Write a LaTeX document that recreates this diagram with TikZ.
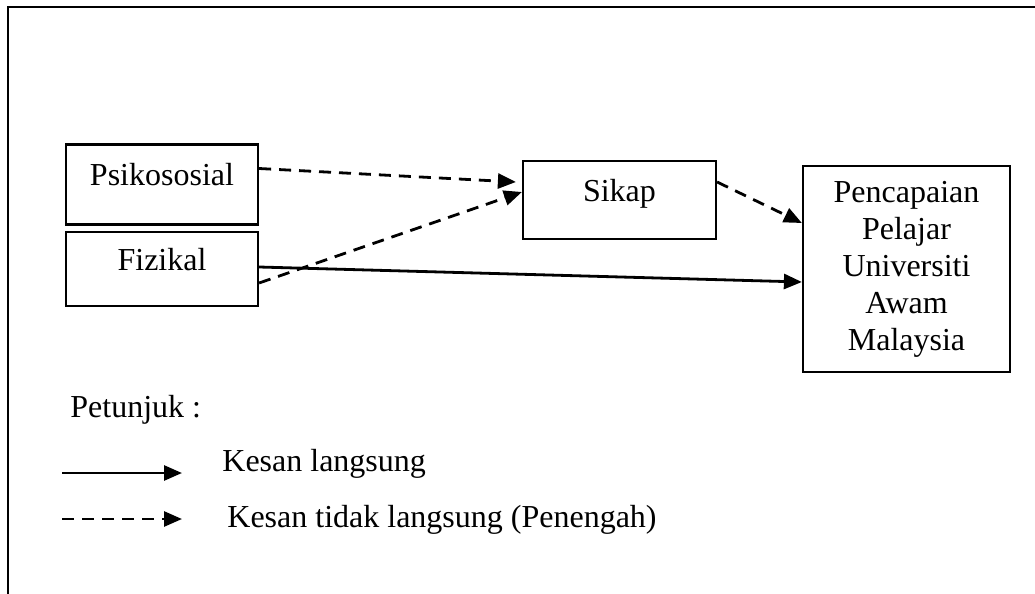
\documentclass[tikz,border=0pt]{standalone}
\usepackage{fontspec}
\setmainfont{Liberation Serif}
\usetikzlibrary{arrows.meta}

\tikzset{
    faktor/.style={draw, line width=1.1pt, minimum width=96pt, text height=10.6pt, text depth=9.5pt, inner sep=0pt},
    hasil/.style={draw, line width=1.1pt, minimum width=103.5pt, minimum height=103pt, align=center, inner sep=0pt},
    langsung/.style={line width=1.4pt, -{Triangle[length=9pt,width=7.5pt]}},
    penengah/.style={langsung, dash pattern=on 6pt off 4pt},
    teks/.style={anchor=base west, inner sep=0pt}
}

\begin{document}
\begin{tikzpicture}[x=0.5pt, y=-0.5pt, font=\fontsize{16}{18.5}\selectfont]
    \useasboundingbox (0,0) rectangle (1035,594);
    \draw[line width=1.4pt] (1035,7) -- (8,7) -- (8,594);

    \node[faktor, minimum height=40pt] (psiko) at (162,184.5) {Psikososial};
    \node[faktor, minimum height=37pt] (fiz) at (162,269) {Fizikal};
    \node[faktor, minimum width=96.5pt, minimum height=39pt] (sikap) at (619.5,200) {Sikap};
    \node[hasil] (capai) at (906.5,269) {Pencapaian\\Pelajar\\Universiti\\Awam\\Malaysia};

    \draw[penengah] ([yshift=8pt]psiko.east) -- ([xshift=-3pt,yshift=9pt]sikap.west);
    \draw[penengah] ([yshift=-7pt]fiz.east) -- ([yshift=4pt]sikap.west);
    \draw[langsung] ([yshift=1pt]fiz.east) -- ([yshift=-6.5pt]capai.west);
    \draw[penengah] ([yshift=9pt]sikap.east) -- ([yshift=23pt]capai.west);

    \node[teks] (petunjuk) at (70,417) {Petunjuk :};
    \coordinate (l1a) at (62,473);
    \coordinate (l1b) at (182,473);
    \coordinate (l2a) at (62,519);
    \coordinate (l2b) at (182,519);
    \draw[langsung] (l1a) -- (l1b);
    \draw[penengah] (l2a) -- (l2b);
    \node[teks] (ket1) at (222,471) {Kesan langsung};
    \node[teks] (ket2) at (227,527) {Kesan tidak langsung (Penengah)};
\end{tikzpicture}
\end{document}
